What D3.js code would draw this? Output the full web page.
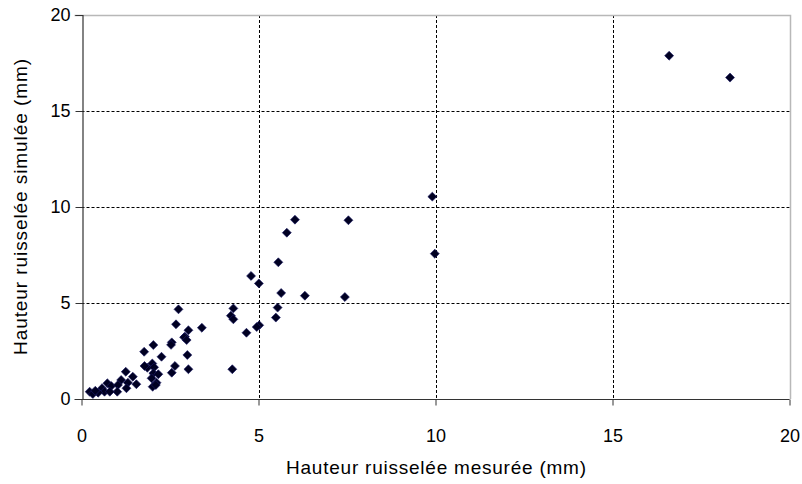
<!DOCTYPE html>
<html>
<head>
<meta charset="utf-8">
<script src="https://cdn.jsdelivr.net/npm/d3@7"></script>
<style>
  html, body { margin: 0; padding: 0; background: #fff; }
  svg { display: block; font-family: "Liberation Sans", Arial, sans-serif; }
</style>
</head>
<body>
<svg id="chart" width="802" height="484"></svg>
<script>
const measured = [
  16.6, 18.32, 6.03, 7.54, 5.80, 5.56, 4.79, 5.01, 5.64, 6.31, 7.44, 9.91, 9.98,
  4.29, 5.54, 4.22, 4.29, 5.49, 3.40, 5.02, 4.95, 4.66, 4.26,
  2.74, 2.67, 3.02, 2.92, 2.90, 2.97, 2.55, 2.53, 2.03, 1.77, 2.26, 2.99, 2.0, 1.86,
  2.64, 2.05, 3.02, 2.55, 2.03, 2.17, 1.98, 2.12, 2.01, 2.10,
  1.78, 1.25, 1.45, 1.12, 1.31, 1.55, 0.73, 0.84, 1.03, 1.27, 1.01, 0.58, 0.65,
  0.80, 0.47, 0.23, 0.32, 0.39
];
const simulated = [
  17.88, 16.74, 9.34, 9.31, 8.66, 7.12, 6.41, 6.02, 5.52, 5.38, 5.31, 10.54, 7.57,
  4.72, 4.76, 4.34, 4.15, 4.24, 3.71, 3.84, 3.75, 3.45, 1.55,
  4.67, 3.89, 3.58, 3.25, 3.21, 3.07, 2.95, 2.82, 2.81, 2.46, 2.20, 2.29, 1.85, 1.63,
  1.72, 1.65, 1.55, 1.37, 1.34, 1.29, 1.08, 0.85, 0.64, 0.73,
  1.72, 1.42, 1.16, 0.99, 0.85, 0.77, 0.82, 0.68, 0.73, 0.56, 0.38, 0.56, 0.38,
  0.38, 0.33, 0.38, 0.26, 0.43
];
const xTicks = [0, 5, 10, 15, 20];
const yTicks = [0, 5, 10, 15, 20];
const xTitle = "Hauteur ruisselée mesurée (mm)";
const yTitle = "Hauteur ruisselée simulée (mm)";

const svg = d3.select("#chart");
const L = 81.5, R = 789.5, T = 15, B = 399;
const x = d3.scaleLinear().domain([0, 20]).range([L, R]);
const y = d3.scaleLinear().domain([0, 20]).range([B, T]);

// gridlines
const grid = svg.append("g");
grid.selectAll("line.gx").data(xTicks.filter(t => t > 0 && t < 20)).enter().append("line")
  .attr("x1", d => Math.round(x(d)) + 0.5).attr("x2", d => Math.round(x(d)) + 0.5)
  .attr("y1", T).attr("y2", B)
  .attr("stroke", "#000").attr("stroke-width", 1).attr("stroke-dasharray", "3,2");
grid.selectAll("line.gy").data(yTicks.filter(t => t > 0 && t < 20)).enter().append("line")
  .attr("y1", d => Math.round(y(d)) + 0.5).attr("y2", d => Math.round(y(d)) + 0.5)
  .attr("x1", L).attr("x2", R)
  .attr("stroke", "#000").attr("stroke-width", 1).attr("stroke-dasharray", "3,2");

// plot border top & right (gray)
svg.append("path")
  .attr("d", `M${L - 7},${Math.round(T) + 0.5}H${Math.round(R) + 0.5}V${B}`)
  .attr("fill", "none").attr("stroke", "#b8b8b8").attr("stroke-width", 1.5);

// axes
const xAxis = svg.append("g").attr("transform", `translate(0,${Math.round(B) + 0.5})`)
  .call(d3.axisBottom(x).tickValues(xTicks).tickSize(6).tickPadding(24).tickFormat(d3.format("d")));
const yAxis = svg.append("g").attr("transform", `translate(${Math.round(L) + 0.5},0)`)
  .call(d3.axisLeft(y).tickValues(yTicks).tickSize(7).tickPadding(5).tickFormat(d3.format("d")));
[xAxis, yAxis].forEach(g => {
  g.select(".domain").attr("stroke", "#333").attr("stroke-width", 1.2);
  g.selectAll(".tick line").attr("stroke", "#333");
  g.selectAll(".tick text").attr("fill", "#000").style("font-size", "18px")
    .style("font-family", "'Liberation Sans', Arial, sans-serif");
});
xAxis.select(".domain").attr("d", `M${L - 7},0H${R}`);

// points
const sym = d3.symbol().type(d3.symbolSquare).size(40);
svg.append("g").selectAll("path").data(measured.map((m, i) => [m, simulated[i]])).enter().append("path")
  .attr("d", sym)
  .attr("transform", d => `translate(${x(d[0])},${y(d[1])}) rotate(45)`)
  .attr("fill", "#000022").attr("stroke", "#1a1a66").attr("stroke-width", 0.6);

// titles
svg.append("text").attr("x", 436).attr("y", 474).attr("text-anchor", "middle")
  .attr("textLength", 300).attr("lengthAdjust", "spacing")
  .style("font-size", "19px").attr("fill", "#000").text(xTitle);
svg.append("text").attr("transform", "translate(27,207) rotate(-90)").attr("text-anchor", "middle")
  .attr("textLength", 296).attr("lengthAdjust", "spacing")
  .style("font-size", "19px").attr("fill", "#000").text(yTitle);
</script>
</body>
</html>
